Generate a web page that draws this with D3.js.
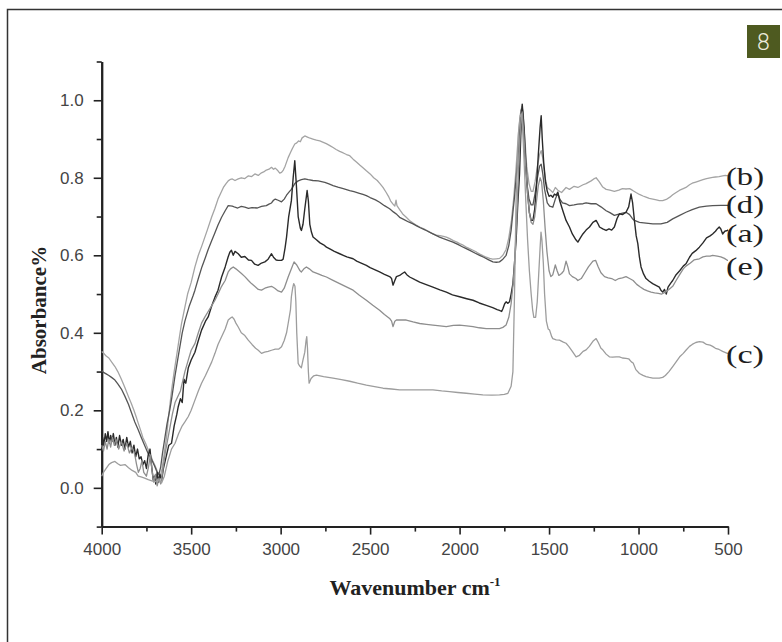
<!DOCTYPE html>
<html>
<head>
<meta charset="utf-8">
<script src="https://cdn.jsdelivr.net/npm/d3@7"></script>
<style>
  html, body { margin: 0; padding: 0; background: #fff; }
  svg { display: block; }
</style>
</head>
<body>
<svg id="chart"></svg>
<script>
const WIDTH = 782;
const HEIGHT = 642;

// --- Data: [wavenumber cm-1, absorbance] ---
const specA = [
  [4000,.10],[3995,.13],[3988,.11],[3980,.14],[3972,.12],[3965,.145],[3957,.115],[3950,.135],[3942,.12],[3935,.14],
  [3926,.11],[3918,.13],[3910,.105],[3900,.135],[3890,.11],[3880,.125],[3870,.10],[3860,.13],[3850,.105],[3840,.12],
  [3830,.09],[3820,.11],[3810,.08],[3800,.10],[3790,.075],[3780,.08],[3770,.06],[3760,.07],[3750,.05],[3740,.085],
  [3730,.10],[3722,.06],[3712,.02],[3705,.03],[3698,.01],[3690,.04],[3682,.015],[3675,.035],[3665,.02],[3655,.05],
  [3640,.08],[3625,.11],[3610,.115],[3595,.16],[3580,.19],[3572,.21],[3560,.23],[3550,.22],[3540,.28],[3530,.27],
  [3516,.31],[3500,.33],[3479,.35],[3460,.38],[3442,.407],[3420,.43],[3405,.441],[3385,.47],[3367,.492],[3350,.51],
  [3330,.544],[3310,.57],[3294,.595],[3284,.608],[3275,.613],[3265,.60],[3255,.61],[3237,.604],[3220,.595],[3200,.597],
  [3180,.588],[3163,.587],[3145,.577],[3126,.574],[3107,.58],[3088,.583],[3070,.59],[3051,.604],[3040,.595],[3025,.588],
  [3014,.587],[2995,.587],[2986,.59],[2975,.62],[2967,.647],[2955,.70],[2940,.741],[2930,.80],[2921,.844],[2912,.78],
  [2902,.70],[2890,.67],[2884,.664],[2875,.68],[2865,.72],[2852,.767],[2845,.74],[2837,.68],[2828,.66],[2819,.647],
  [2800,.64],[2780,.632],[2760,.627],[2744,.621],[2720,.615],[2700,.61],[2670,.604],[2650,.600],[2630,.596],[2595,.591],
  [2575,.585],[2550,.58],[2521,.574],[2500,.568],[2475,.563],[2447,.557],[2420,.551],[2391,.545],[2380,.54],[2372,.523],
  [2362,.535],[2353,.545],[2335,.548],[2320,.553],[2307,.557],[2295,.55],[2279,.544],[2250,.537],[2223,.531],[2190,.525],
  [2149,.518],[2110,.511],[2074,.505],[2040,.498],[2000,.493],[1960,.488],[1925,.484],[1890,.477],[1851,.471],[1815,.465],
  [1790,.46],[1777,.458],[1765,.455],[1758,.462],[1748,.475],[1740,.480],[1730,.476],[1721,.48],[1712,.50],[1702,.527],
  [1693,.58],[1684,.64],[1675,.73],[1665,.81],[1658,.91],[1650,.99],[1640,.93],[1630,.84],[1620,.76],[1610,.71],
  [1600,.69],[1590,.69],[1580,.72],[1570,.78],[1560,.86],[1550,.93],[1544,.96],[1538,.90],[1530,.84],[1520,.79],
  [1510,.765],[1500,.752],[1490,.755],[1479,.75],[1470,.758],[1460,.755],[1451,.763],[1440,.74],[1423,.715],[1405,.69],
  [1386,.673],[1370,.655],[1350,.640],[1339,.634],[1325,.645],[1311,.655],[1293,.665],[1274,.673],[1255,.685],[1237,.690],
  [1225,.68],[1218,.673],[1200,.668],[1181,.664],[1165,.668],[1150,.665],[1135,.673],[1120,.695],[1107,.707],[1090,.705],
  [1070,.711],[1055,.725],[1042,.758],[1033,.735],[1023,.69],[1013,.65],[1004,.63],[995,.595],[986,.570],[972,.552],
  [958,.540],[940,.533],[921,.527],[900,.522],[884,.518],[875,.51],[865,.505],[855,.512],[845,.50],[835,.518],
  [820,.528],[809,.535],[790,.55],[770,.56],[750,.572],[735,.578],[715,.595],[700,.605],[680,.612],[660,.621],
  [640,.632],[620,.645],[600,.650],[586,.655],[570,.662],[560,.668],[549,.673],[540,.668],[530,.655],[518,.662],
  [504,.664],[500,.666]
];

const specB = [
  [4000,.352],[3990,.348],[3975,.34],[3960,.335],[3945,.325],[3926,.313],[3910,.30],[3890,.280],[3870,.258],[3851,.236],
  [3835,.218],[3820,.200],[3805,.18],[3796,.167],[3780,.145],[3770,.130],[3755,.115],[3740,.098],[3725,.082],[3715,.070],
  [3703,.058],[3693,.047],[3683,.035],[3672,.03],[3662,.05],[3650,.09],[3638,.13],[3625,.19],[3609,.253],[3595,.30],
  [3580,.345],[3567,.385],[3554,.424],[3538,.46],[3520,.50],[3500,.53],[3479,.570],[3460,.60],[3440,.625],[3425,.645],
  [3410,.665],[3386,.698],[3368,.72],[3350,.745],[3335,.76],[3320,.775],[3305,.785],[3293,.792],[3280,.796],[3270,.797],
  [3255,.793],[3237,.797],[3220,.80],[3200,.798],[3180,.805],[3162,.803],[3144,.810],[3125,.806],[3110,.812],[3095,.815],
  [3080,.820],[3065,.822],[3051,.827],[3040,.822],[3030,.825],[3015,.818],[3005,.812],[2995,.814],[2985,.82],[2975,.830],
  [2958,.852],[2945,.865],[2935,.875],[2921,.887],[2910,.89],[2900,.895],[2890,.893],[2880,.903],[2865,.908],[2850,.905],
  [2835,.902],[2820,.900],[2800,.897],[2781,.895],[2765,.892],[2745,.888],[2725,.883],[2707,.878],[2690,.873],[2670,.868],
  [2650,.864],[2632,.86],[2614,.857],[2595,.848],[2575,.84],[2558,.833],[2540,.826],[2521,.818],[2500,.81],[2480,.80],
  [2460,.793],[2445,.785],[2428,.775],[2410,.762],[2395,.75],[2385,.74],[2372,.732],[2362,.727],[2355,.742],[2350,.728],
  [2335,.718],[2315,.705],[2298,.698],[2280,.69],[2260,.683],[2240,.677],[2223,.673],[2200,.668],[2180,.663],[2165,.659],
  [2149,.655],[2130,.652],[2110,.651],[2090,.649],[2074,.647],[2055,.643],[2035,.638],[2015,.634],[2000,.630],[1980,.626],
  [1963,.621],[1945,.617],[1925,.613],[1905,.608],[1887,.603],[1870,.599],[1851,.595],[1832,.592],[1815,.59],[1795,.591],
  [1776,.592],[1758,.600],[1740,.615],[1725,.645],[1710,.69],[1698,.745],[1685,.82],[1672,.91],[1662,.96],[1652,.985],
  [1645,.97],[1635,.90],[1625,.83],[1612,.785],[1600,.765],[1590,.765],[1578,.79],[1565,.83],[1553,.86],[1544,.87],
  [1535,.85],[1522,.80],[1510,.775],[1497,.77],[1479,.762],[1465,.775],[1451,.768],[1430,.762],[1405,.775],[1386,.77],
  [1360,.778],[1339,.775],[1310,.782],[1293,.785],[1265,.792],[1250,.797],[1237,.800],[1220,.79],[1200,.776],[1181,.770],
  [1160,.768],[1135,.765],[1110,.768],[1090,.772],[1070,.771],[1050,.772],[1035,.768],[1014,.762],[995,.757],[975,.753],
  [958,.750],[940,.747],[920,.745],[900,.743],[884,.741],[865,.741],[845,.744],[825,.75],[809,.756],[790,.762],
  [770,.768],[750,.772],[735,.775],[715,.782],[700,.786],[680,.789],[660,.792],[640,.795],[620,.798],[600,.80],
  [586,.801],[570,.802],[550,.803],[530,.805],[515,.806],[500,.805]
];

const specC = [
  [4000,.03],[3990,.04],[3975,.05],[3960,.06],[3945,.065],[3926,.068],[3910,.062],[3895,.058],[3870,.060],[3850,.052],
  [3830,.045],[3810,.040],[3796,.030],[3780,.028],[3760,.025],[3740,.021],[3720,.018],[3700,.016],[3685,.02],[3665,.013],
  [3650,.03],[3630,.07],[3610,.10],[3590,.115],[3570,.14],[3550,.16],[3535,.17],[3516,.184],[3500,.20],[3480,.225],
  [3460,.25],[3442,.270],[3420,.29],[3400,.31],[3385,.325],[3367,.347],[3350,.37],[3330,.39],[3310,.41],[3293,.433],
  [3280,.438],[3271,.441],[3260,.435],[3250,.425],[3237,.415],[3220,.40],[3200,.393],[3181,.381],[3160,.37],[3140,.36],
  [3125,.355],[3107,.347],[3090,.35],[3070,.352],[3051,.355],[3030,.358],[3010,.358],[2995,.364],[2980,.38],[2967,.40],
  [2958,.424],[2945,.46],[2940,.493],[2933,.515],[2927,.527],[2920,.52],[2915,.48],[2910,.40],[2902,.321],[2895,.315],
  [2884,.31],[2875,.33],[2865,.35],[2858,.38],[2854,.390],[2850,.36],[2845,.30],[2841,.270],[2830,.282],[2815,.289],
  [2800,.291],[2760,.287],[2707,.283],[2660,.279],[2614,.275],[2570,.27],[2521,.265],[2475,.261],[2428,.257],[2380,.255],
  [2335,.253],[2290,.253],[2242,.253],[2195,.253],[2149,.253],[2100,.25],[2056,.248],[2010,.246],[1963,.244],[1915,.242],
  [1870,.240],[1820,.239],[1777,.240],[1750,.241],[1730,.244],[1712,.262],[1702,.30],[1693,.50],[1684,.75],[1670,.92],
  [1661,.96],[1655,.965],[1648,.93],[1640,.85],[1630,.74],[1620,.64],[1610,.56],[1600,.50],[1592,.46],[1585,.44],
  [1575,.44],[1566,.48],[1558,.55],[1550,.62],[1545,.66],[1540,.64],[1532,.58],[1525,.50],[1515,.43],[1505,.41],
  [1497,.407],[1485,.39],[1479,.385],[1460,.382],[1442,.381],[1420,.376],[1405,.373],[1390,.365],[1370,.352],[1349,.338],
  [1330,.342],[1310,.352],[1293,.356],[1275,.365],[1255,.378],[1237,.385],[1225,.375],[1210,.36],[1200,.356],[1181,.345],
  [1163,.338],[1145,.337],[1125,.338],[1107,.338],[1090,.335],[1070,.334],[1055,.333],[1040,.325],[1030,.322],[1015,.305],
  [995,.295],[975,.29],[958,.287],[940,.285],[920,.283],[900,.283],[884,.283],[865,.285],[850,.29],[830,.30],
  [809,.313],[790,.325],[770,.338],[750,.347],[735,.355],[715,.365],[700,.37],[680,.375],[660,.377],[640,.376],
  [620,.37],[600,.368],[586,.365],[570,.36],[550,.357],[530,.352],[504,.347],[500,.347]
];

const specD = [
  [4000,.302],[3990,.298],[3975,.294],[3960,.290],[3945,.285],[3926,.278],[3910,.268],[3890,.255],[3870,.236],[3850,.215],
  [3833,.193],[3815,.170],[3796,.150],[3777,.128],[3758,.107],[3740,.088],[3721,.073],[3705,.057],[3692,.042],[3680,.035],
  [3670,.055],[3660,.09],[3650,.12],[3635,.165],[3620,.20],[3609,.23],[3590,.29],[3572,.34],[3550,.40],[3535,.43],
  [3510,.47],[3490,.495],[3479,.51],[3460,.54],[3440,.57],[3420,.595],[3405,.615],[3385,.638],[3370,.655],[3350,.678],
  [3330,.698],[3310,.715],[3293,.728],[3270,.727],[3255,.724],[3240,.722],[3220,.726],[3200,.724],[3180,.721],[3160,.723],
  [3130,.722],[3107,.726],[3080,.728],[3065,.732],[3051,.735],[3040,.742],[3030,.745],[3014,.742],[2995,.738],[2980,.745],
  [2967,.755],[2950,.765],[2940,.770],[2921,.785],[2902,.792],[2884,.795],[2865,.797],[2846,.795],[2820,.793],[2790,.792],
  [2753,.788],[2730,.784],[2707,.780],[2680,.776],[2650,.772],[2614,.767],[2590,.764],[2560,.76],[2540,.757],[2521,.754],
  [2500,.749],[2470,.743],[2447,.737],[2420,.728],[2391,.720],[2370,.712],[2350,.705],[2335,.698],[2310,.692],[2285,.686],
  [2260,.681],[2240,.676],[2220,.671],[2200,.667],[2186,.664],[2160,.658],[2135,.652],[2112,.647],[2090,.643],[2060,.638],
  [2037,.634],[2010,.628],[1985,.622],[1963,.617],[1940,.612],[1915,.606],[1888,.600],[1865,.595],[1840,.589],[1814,.583],
  [1795,.582],[1777,.583],[1758,.59],[1740,.60],[1725,.625],[1712,.664],[1700,.72],[1693,.75],[1680,.82],[1674,.85],
  [1665,.92],[1656,.975],[1650,.98],[1645,.95],[1635,.86],[1625,.79],[1612,.745],[1600,.73],[1590,.73],[1578,.76],
  [1565,.80],[1553,.83],[1544,.835],[1535,.81],[1525,.77],[1510,.735],[1497,.727],[1479,.724],[1465,.745],[1451,.760],
  [1440,.745],[1425,.735],[1405,.733],[1386,.728],[1360,.73],[1339,.732],[1310,.733],[1293,.735],[1265,.733],[1237,.733],
  [1210,.725],[1181,.715],[1160,.71],[1135,.703],[1110,.706],[1090,.709],[1070,.711],[1050,.705],[1035,.695],[1023,.69],
  [995,.685],[958,.683],[920,.681],[875,.681],[840,.685],[809,.694],[770,.703],[735,.711],[700,.718],[660,.724],
  [620,.727],[586,.728],[540,.729],[500,.729]
];

const specE = [
  [4000,.11],[3990,.095],[3980,.12],[3970,.10],[3960,.125],[3950,.105],[3940,.13],[3930,.11],[3920,.125],[3905,.10],
  [3890,.12],[3875,.095],[3860,.115],[3845,.09],[3830,.105],[3815,.085],[3805,.06],[3795,.04],[3785,.05],[3775,.07],
  [3765,.04],[3750,.03],[3738,.055],[3728,.085],[3720,.05],[3710,.015],[3700,.035],[3690,.005],[3680,.025],[3670,.01],
  [3660,.04],[3645,.09],[3625,.14],[3605,.19],[3590,.22],[3570,.24],[3560,.25],[3550,.27],[3535,.30],[3516,.33],
  [3500,.355],[3479,.372],[3460,.40],[3442,.425],[3423,.441],[3405,.455],[3385,.47],[3367,.484],[3350,.50],[3330,.52],
  [3310,.535],[3293,.557],[3280,.565],[3265,.570],[3250,.565],[3237,.560],[3219,.553],[3200,.545],[3180,.535],[3163,.527],
  [3145,.52],[3125,.512],[3107,.510],[3088,.515],[3070,.518],[3051,.52],[3033,.515],[3014,.508],[2995,.505],[2980,.515],
  [2958,.544],[2940,.565],[2925,.583],[2910,.575],[2893,.561],[2884,.557],[2870,.565],[2856,.57],[2840,.565],[2819,.557],
  [2790,.552],[2770,.548],[2744,.544],[2710,.536],[2670,.527],[2630,.518],[2595,.510],[2560,.497],[2521,.484],[2485,.471],
  [2447,.458],[2420,.447],[2391,.437],[2380,.43],[2372,.416],[2362,.43],[2353,.433],[2320,.433],[2298,.433],[2260,.428],
  [2223,.424],[2185,.422],[2149,.420],[2110,.418],[2074,.416],[2035,.419],[2000,.42],[1960,.418],[1925,.416],[1890,.413],
  [1851,.411],[1815,.411],[1777,.411],[1758,.414],[1740,.42],[1725,.44],[1712,.475],[1700,.53],[1693,.58],[1680,.70],
  [1668,.85],[1658,.94],[1650,.97],[1642,.92],[1632,.84],[1620,.76],[1610,.71],[1600,.685],[1590,.68],[1580,.70],
  [1570,.74],[1560,.78],[1550,.80],[1542,.79],[1532,.74],[1522,.67],[1512,.61],[1500,.56],[1490,.545],[1479,.55],
  [1465,.575],[1455,.56],[1445,.548],[1430,.553],[1418,.56],[1405,.585],[1395,.57],[1386,.552],[1370,.545],[1350,.54],
  [1339,.535],[1320,.54],[1300,.555],[1280,.57],[1255,.585],[1240,.587],[1225,.57],[1210,.555],[1190,.545],[1170,.542],
  [1150,.540],[1130,.535],[1110,.540],[1090,.542],[1070,.545],[1050,.54],[1030,.535],[1010,.525],[990,.518],[970,.512],
  [950,.508],[930,.505],[910,.503],[890,.502],[870,.50],[850,.505],[830,.512],[809,.52],[790,.535],[770,.55],
  [750,.565],[735,.572],[710,.58],[690,.588],[660,.591],[640,.596],[620,.598],[600,.598],[586,.60],[560,.598],
  [540,.596],[520,.592],[504,.587],[500,.587]
];

const seriesNames = ["(b)", "(d)", "(a)", "(e)", "(c)"];
const seriesData = [specB, specD, specA, specE, specC];

const xTicks = [4000, 3500, 3000, 2500, 2000, 1500, 1000, 500];
const xMinorTicks = [3750, 3250, 2750, 2250, 1750, 1250, 750];
const yTicks = [0.0, 0.2, 0.4, 0.6, 0.8, 1.0];
const yMinorTicks = [-0.1, 0.1, 0.3, 0.5, 0.7, 0.9, 1.1];

// line looks per series, same order as seriesNames
const lineColors = ["#a4a4a4", "#555555", "#2a2a2a", "#8e8e8e", "#9d9d9d"];
const lineWidths = [1.3, 1.3, 1.4, 1.3, 1.3];
// where each end label sits, in absorbance units
const labelLevels = [0.782, 0.71, 0.635, 0.55, 0.322];

const svg = d3.select("#chart")
    .attr("width", WIDTH)
    .attr("height", HEIGHT)
    .attr("viewBox", [0, 0, WIDTH, HEIGHT]);

// outer frame of the figure
svg.append("rect")
    .attr("x", 7.5).attr("y", 9.5)
    .attr("width", 820).attr("height", 700)
    .attr("fill", "none")
    .attr("stroke", "#333")
    .attr("stroke-width", 1.5);

// figure number badge
svg.append("rect")
    .attr("x", 747).attr("y", 25)
    .attr("width", 33).attr("height", 33)
    .attr("fill", "#4e5a20");
svg.append("text")
    .attr("x", 763.5).attr("y", 50)
    .attr("text-anchor", "middle")
    .attr("font-family", "Roboto, 'Open Sans', sans-serif")
    .attr("font-weight", 300)
    .attr("font-size", "23px")
    .attr("fill", "#ecebdc")
    .text("8");

const x = d3.scaleLinear().domain([4000, 500]).range([101.7, 728]);
const y = d3.scaleLinear().domain([-0.1, 1.1]).range([526.6, 61.5]);

// --- Axes ---
const tickFont = "'Liberation Sans', Arial, sans-serif";

function styleAxis(g) {
    g.select(".domain").attr("stroke", "#222").attr("stroke-width", 2);
    g.selectAll(".tick line").attr("stroke", "#222").attr("stroke-width", 1.6);
    g.selectAll(".tick text")
        .attr("font-family", tickFont)
        .attr("font-size", "17px")
        .attr("fill", "#444");
}

svg.append("g")
    .attr("transform", `translate(0,${y(-0.1)})`)
    .call(d3.axisBottom(x).tickValues(xMinorTicks).tickSize(5).tickSizeOuter(0).tickFormat(""))
    .call(styleAxis);

svg.append("g")
    .attr("transform", `translate(0,${y(-0.1)})`)
    .call(d3.axisBottom(x).tickValues(xTicks).tickSize(8).tickSizeOuter(0).tickPadding(8).tickFormat(d3.format("d")))
    .call(styleAxis);

svg.append("g")
    .attr("transform", `translate(${x(4000)},0)`)
    .call(d3.axisLeft(y).tickValues(yMinorTicks).tickSize(5).tickSizeOuter(0).tickFormat(""))
    .call(styleAxis);

svg.append("g")
    .attr("transform", `translate(${x(4000)},0)`)
    .call(d3.axisLeft(y).tickValues(yTicks).tickSize(8).tickSizeOuter(0).tickPadding(10).tickFormat(d3.format(".1f")))
    .call(styleAxis);

// axis titles
svg.append("text")
    .attr("transform", "translate(46,310) rotate(-90)")
    .attr("text-anchor", "middle")
    .attr("font-family", "'Liberation Serif', 'Times New Roman', serif")
    .attr("font-weight", "bold")
    .attr("font-size", "21px")
    .attr("fill", "#222")
    .text("Absorbance%");

const xTitle = svg.append("text")
    .attr("x", 415).attr("y", 595)
    .attr("text-anchor", "middle")
    .attr("font-family", "'Liberation Serif', 'Times New Roman', serif")
    .attr("font-weight", "bold")
    .attr("font-size", "22px")
    .attr("fill", "#222");
xTitle.append("tspan").text("Wavenumber cm");
xTitle.append("tspan")
    .attr("dy", -9)
    .attr("font-size", "13px")
    .text("-1");

// --- Spectra ---
const line = d3.line()
    .x(d => x(d[0]))
    .y(d => y(d[1]));

svg.append("g")
    .selectAll("path")
    .data(seriesData)
    .join("path")
    .attr("d", line)
    .attr("fill", "none")
    .attr("stroke", (d, i) => lineColors[i])
    .attr("stroke-width", (d, i) => lineWidths[i])
    .attr("stroke-linejoin", "round");

// end labels
svg.append("g")
    .selectAll("text")
    .data(seriesNames)
    .join("text")
    .attr("x", x(500) - 2)
    .attr("y", (d, i) => y(labelLevels[i]))
    .attr("font-family", "'Liberation Serif', 'Times New Roman', serif")
    .attr("font-size", "25px")
    .attr("fill", "#1e1e1e")
    .attr("textLength", 38)
    .attr("lengthAdjust", "spacingAndGlyphs")
    .text(d => d);
</script>
</body>
</html>
